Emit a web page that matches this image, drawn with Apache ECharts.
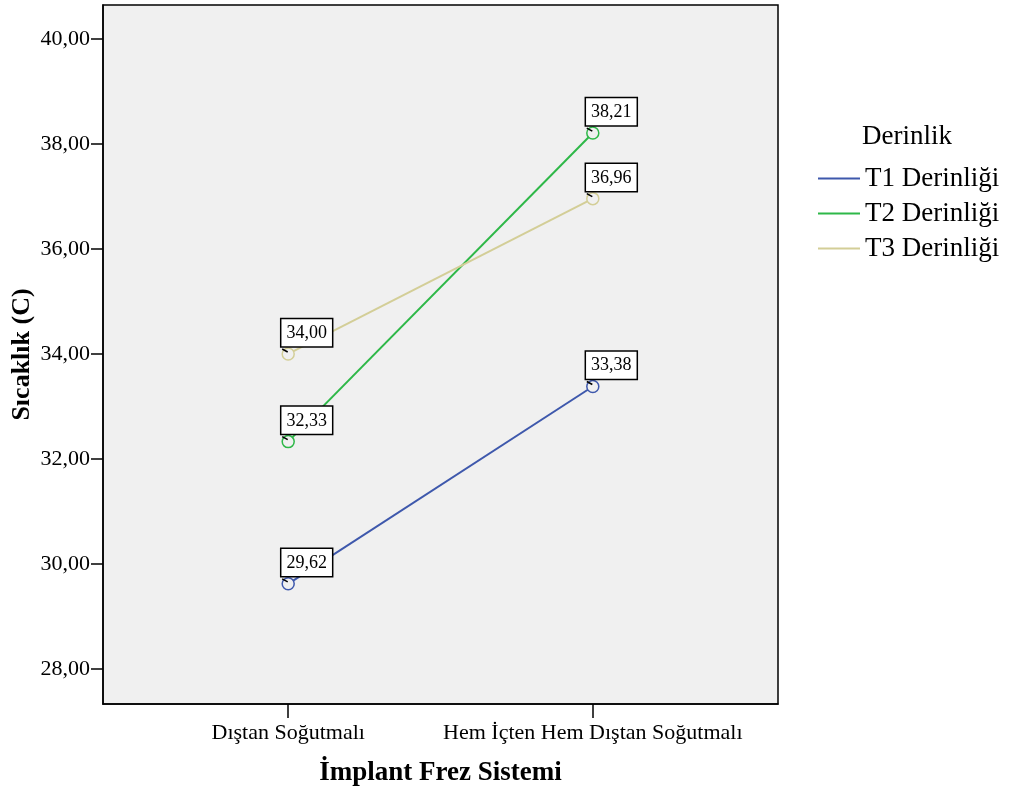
<!DOCTYPE html>
<html><head><meta charset="utf-8">
<script src="https://cdn.jsdelivr.net/npm/echarts@6/dist/echarts.min.js"></script>
<style>html,body{margin:0;padding:0;background:#fff}#c{width:1014px;height:789px}</style>
</head><body><div id="c"></div>
<script>
const categories = ['Dıştan Soğutmalı', 'Hem İçten Hem Dıştan Soğutmalı'];
const seriesNames = ['T1 Derinliği', 'T2 Derinliği', 'T3 Derinliği'];
const t1Values = [29.62, 33.38];
const t2Values = [32.33, 38.21];
const t3Values = [34.00, 36.96];
const yTicks = [28, 30, 32, 34, 36, 38, 40];
const colors = ['#3E58AC', '#2EB848', '#D3CE97'];

const font = 'Liberation Serif, Times New Roman, serif';
const fmt = v => v.toFixed(2).replace('.', ',');
const allValues = [t1Values, t2Values, t3Values];

function mk(name, vals, color) {
  return {
    name, type: 'line',
    data: vals.map((v, i) => [i, v]),
    symbol: 'circle', symbolSize: 12,
    lineStyle: { color, width: 2 },
    itemStyle: { color: '#F0F0F0', borderColor: color, borderWidth: 1.5 },
    emphasis: { disabled: true },
    z: 2,
    label: {
      show: true, position: 'inside',
      formatter: p => fmt(p.value[1]),
      fontFamily: font, fontSize: 18, color: '#000', lineHeight: 18,
      backgroundColor: '#fff', borderColor: '#000', borderWidth: 1.5,
      padding: [5, 5, 4, 5]
    },
    labelLayout: p => ({ x: p.rect.x, y: p.rect.y - 28, align: 'left', verticalAlign: 'top' })
  };
}

// small leader stubs from label box corner to each point
const stubData = [];
allValues.forEach(vals => vals.forEach((v, i) => stubData.push([i, v])));
const stubSeries = {
  type: 'custom', name: 'stub', silent: true, z: 3,
  data: stubData,
  renderItem: (params, api) => {
    const p = api.coord([api.value(0), api.value(1)]);
    return { type: 'line', shape: { x1: p[0] - 6, y1: p[1] - 5, x2: p[0] - 0.5, y2: p[1] - 2 }, style: { stroke: '#000', lineWidth: 1.5 } };
  }
};

const chart = echarts.init(document.getElementById('c'));
chart.setOption({
  animation: false,
  color: colors,
  title: { text: 'Derinlik', left: 857, top: 118, textStyle: { fontFamily: font, fontSize: 27, fontWeight: 'normal', color: '#000' } },
  legend: {
    orient: 'vertical', left: 818, top: 165, padding: 0, icon: 'rect', itemWidth: 42, itemHeight: 2, itemGap: 8,
    textStyle: { fontFamily: font, fontSize: 27, color: '#000', lineHeight: 27 },
    data: seriesNames.map((n, i) => ({ name: n, itemStyle: { color: colors[i], borderWidth: 0 } }))
  },
  grid: { left: 103, right: 236, top: 5, bottom: 85, outerBoundsMode: 'none', containLabel: false, show: true, backgroundColor: '#F0F0F0', borderColor: '#000', borderWidth: 1.5 },
  xAxis: {
    type: 'value', min: -0.608, max: 1.608,
    name: 'İmplant Frez Sistemi', nameLocation: 'middle', nameGap: 56, nameMoveOverlap: false,
    nameTextStyle: { fontFamily: font, fontSize: 27, fontWeight: 'bold', color: '#000' },
    axisLine: { onZero: false, lineStyle: { color: '#000', width: 1.5 } },
    axisTick: { show: true, length: 14, lineStyle: { color: '#000', width: 1.5 }, customValues: [0, 1] },
    axisLabel: { customValues: [0, 1], formatter: v => categories[Math.round(v)], fontFamily: font, fontSize: 22, color: '#000', margin: 18 },
    splitLine: { show: false }
  },
  yAxis: {
    type: 'value', min: 27.33, max: 40.65,
    name: 'Sıcaklık (C)', nameLocation: 'middle', nameGap: 68, nameRotate: 90, nameMoveOverlap: false,
    nameTextStyle: { fontFamily: font, fontSize: 26, fontWeight: 'bold', color: '#000' },
    axisLine: { onZero: false, lineStyle: { color: '#000', width: 1.5 } },
    axisTick: { show: true, length: 12, lineStyle: { color: '#000', width: 1.5 }, customValues: yTicks },
    axisLabel: { customValues: yTicks, formatter: v => fmt(v), fontFamily: font, fontSize: 22, color: '#000', margin: 13 },
    splitLine: { show: false }
  },
  series: [mk(seriesNames[0], t1Values, colors[0]), mk(seriesNames[1], t2Values, colors[1]), mk(seriesNames[2], t3Values, colors[2]), stubSeries]
});
</script></body></html>
